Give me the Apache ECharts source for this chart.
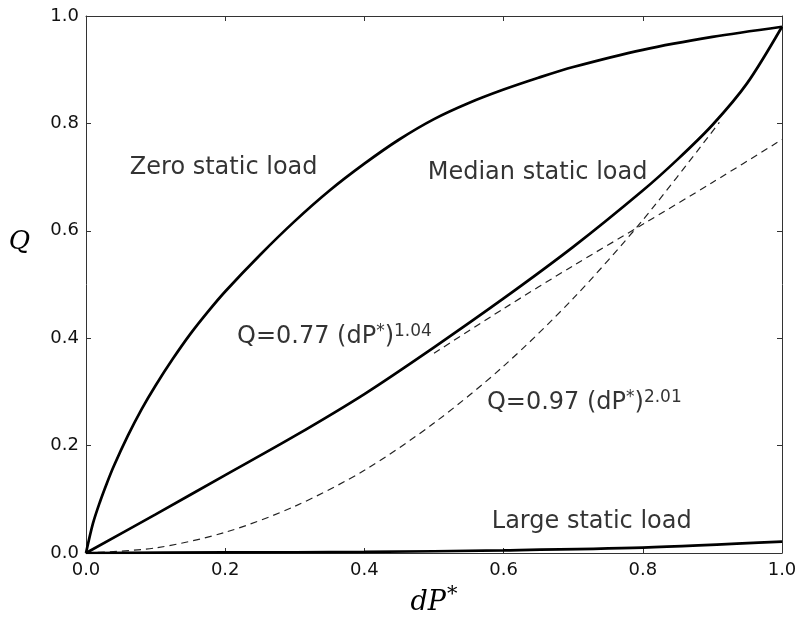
<!DOCTYPE html>
<html lang="en">
<head>
    <meta charset="UTF-8">
    <title>Q vs dP*</title>
    <script src="https://cdn.jsdelivr.net/npm/echarts@6/dist/echarts.min.js"></script>
    <style>
        html, body { margin: 0; padding: 0; background: #fff; }
        #main { width: 796px; height: 617px; }
    </style>
</head>
<body>
<div id="main"></div>
<script>
    // data
    var ticks = [0.0, 0.2, 0.4, 0.6, 0.8, 1.0];

    var zeroX = [0, 0.01, 0.02, 0.03, 0.04, 0.06, 0.08, 0.1, 0.125, 0.15, 0.175, 0.2, 0.25, 0.3, 0.35, 0.4, 0.45, 0.5, 0.55, 0.6, 0.65, 0.7, 0.8, 0.9, 1.0];
    var zeroQ = [0, 0.055, 0.095, 0.13, 0.162, 0.218, 0.268, 0.312, 0.362, 0.408, 0.449, 0.487, 0.555, 0.618, 0.675, 0.725, 0.77, 0.808, 0.838, 0.863, 0.885, 0.905, 0.937, 0.961, 0.98];

    var medianX = [0, 0.1, 0.2, 0.3, 0.4, 0.5, 0.6, 0.7, 0.8, 0.85, 0.9, 0.95, 1.0];
    var medianQ = [0, 0.072, 0.145, 0.218, 0.296, 0.383, 0.474, 0.57, 0.675, 0.733, 0.797, 0.875, 0.98];

    var largeX = [0, 0.2, 0.4, 0.6, 0.8, 1.0];
    var largeQ = [0, 0.001, 0.002, 0.005, 0.01, 0.021];

    var fitLinX = [0.5, 0.6, 0.7, 0.8, 0.9, 1.0];
    var fitLinQ = [0.372, 0.455, 0.535, 0.612, 0.69, 0.77];

    var fitSqX = [0, 0.1, 0.2, 0.3, 0.4, 0.5, 0.6, 0.7, 0.8, 0.91];
    var fitSqQ = [0, 0.0095, 0.0385, 0.087, 0.154, 0.242, 0.348, 0.474, 0.62, 0.802];

    var noteText = ['Zero static load', 'Median static load', 'Large static load', 'lin', 'sq'];
    var noteX = [0.063, 0.491, 0.583, 0.217, 0.576];
    var noteQ = [0.717, 0.709, 0.058, 0.402, 0.279];

    function pairs(xs, ys) {
        var out = [];
        for (var i = 0; i < xs.length; i++) out.push([xs[i], ys[i]]);
        return out;
    }

    var myChart = echarts.init(document.getElementById('main'));

    var axisCommon = {
        type: 'value',
        min: 0,
        max: 1,
        interval: 0.2,
        splitLine: { show: false },
        axisLine: { show: true, onZero: false, lineStyle: { color: '#333', width: 1 } },
        axisTick: { show: true, inside: true, length: 5, lineStyle: { color: '#333' } }
    };

    var lineStyleSolid = { color: '#000', width: 2.7 };
    var lineStyleDash = { color: '#222', width: 1.2, type: [7, 5] };

    var notes = [];
    for (var i = 0; i < noteText.length; i++) {
        notes.push({ value: [noteX[i], noteQ[i]], name: noteText[i] });
    }

    function curve(xs, ys, style, z) {
        return { type: 'line', data: pairs(xs, ys), smooth: 0.3, showSymbol: false, lineStyle: style, z: z };
    }

    var option = {
        animation: false,
        backgroundColor: '#fff',
        grid: { left: 86, top: 16, right: 14, bottom: 64, containLabel: false, outerBoundsMode: 'none' },
        xAxis: [
            Object.assign({}, axisCommon, {
                position: 'bottom',
                name: '{it|dP}{sup|*}',
                nameLocation: 'middle',
                nameGap: 30,
                nameTextStyle: {
                    rich: {
                        it: { fontFamily: 'DejaVu Serif', fontStyle: 'italic', fontSize: 27, color: '#000' },
                        sup: { fontFamily: 'DejaVu Serif', fontSize: 21, color: '#000', verticalAlign: 'bottom', padding: [0, 0, 17, 1] }
                    }
                },
                axisLabel: {
                    fontFamily: 'DejaVu Sans', fontSize: 18, color: '#111', margin: 8,
                    formatter: function (v) { return v.toFixed(1); }
                }
            }),
            Object.assign({}, axisCommon, { position: 'top', axisLabel: { show: false } })
        ],
        yAxis: [
            Object.assign({}, axisCommon, {
                position: 'left',
                name: '{q|Q}',
                nameLocation: 'middle',
                nameRotate: 0,
                nameGap: 56,
                nameTextStyle: {
                    rich: {
                        q: { fontFamily: 'DejaVu Serif', fontStyle: 'italic', fontSize: 26, color: '#000', padding: [0, 0, 84, 0] }
                    }
                },
                axisLabel: {
                    fontFamily: 'DejaVu Sans', fontSize: 18, color: '#111', margin: 7,
                    formatter: function (v) { return v.toFixed(1); }
                }
            }),
            Object.assign({}, axisCommon, { position: 'right', axisLabel: { show: false } })
        ],
        series: [
            curve(fitSqX, fitSqQ, lineStyleDash, 2),
            curve(fitLinX, fitLinQ, lineStyleDash, 2),
            curve(zeroX, zeroQ, lineStyleSolid, 3),
            curve(medianX, medianQ, lineStyleSolid, 3),
            curve(largeX, largeQ, lineStyleSolid, 3),
            {
                type: 'scatter',
                data: notes,
                symbolSize: 0,
                z: 5,
                label: {
                    show: true,
                    position: 'right',
                    distance: 0,
                    fontFamily: 'DejaVu Sans',
                    fontSize: 24,
                    color: '#000',
                    formatter: function (p) {
                        if (p.name === 'lin') return 'Q=0.77 (dP{s|*}){s|1.04}';
                        if (p.name === 'sq') return 'Q=0.97 (dP{s|*}){s|2.01}';
                        return p.name;
                    },
                    rich: {
                        s: { fontFamily: 'DejaVu Sans', fontSize: 17, color: '#000', verticalAlign: 'bottom', padding: [0, 0, 11, 0] }
                    }
                },
                emphasis: { disabled: true }
            }
        ]
    };

    myChart.setOption(option);
</script>
</body>
</html>
